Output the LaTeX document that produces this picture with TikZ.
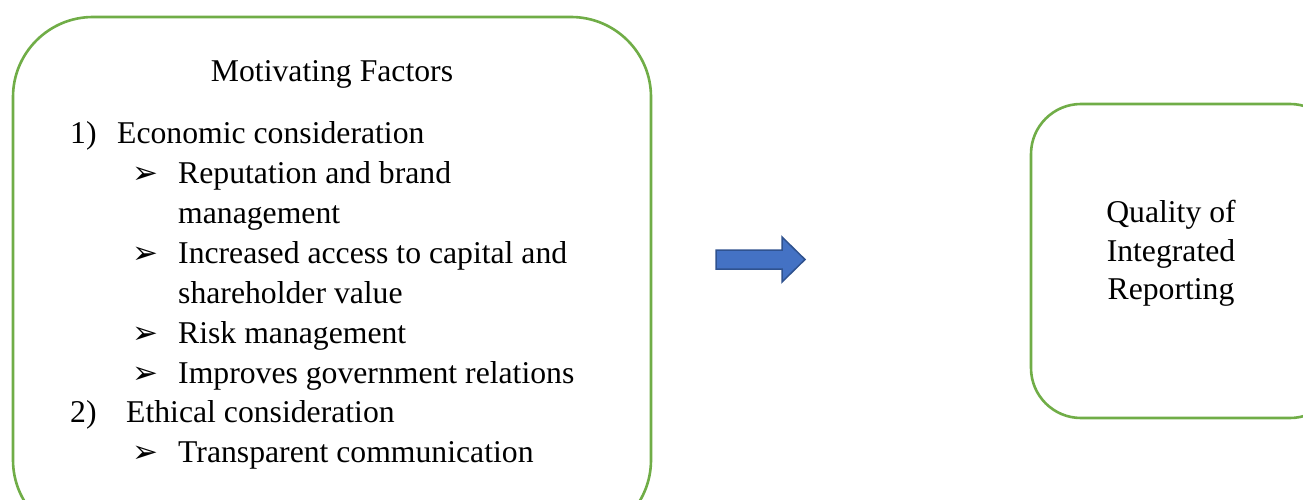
\documentclass[tikz,border=0pt]{standalone}
\usepackage{fontspec}
\setmainfont{Liberation Serif}
\newfontfamily\symfont{DejaVu Sans}
\definecolor{boxgreen}{HTML}{70AD47}
\definecolor{arrowfill}{HTML}{4472C4}
\definecolor{arrowedge}{HTML}{2F528F}
\begin{document}
\begin{tikzpicture}[x=1pt,y=-1pt,
  panel/.style={draw=boxgreen, line width=2.6pt, fill=white},
  txt/.style={anchor=base west, inner sep=0pt, font=\fontsize{31.7}{36}\selectfont},
  ctxt/.style={anchor=base, inner sep=0pt, font=\fontsize{31.7}{36}\selectfont},
  bul/.style={anchor=base west, inner sep=0pt, font=\symfont\fontsize{31}{36}\selectfont}]
\useasboundingbox (0,0) rectangle (1303,500);
\clip (0,0) rectangle (1303,500);
% panels
\draw[panel, rounded corners=80pt] (13,17) rectangle (651,540);
\draw[panel, rounded corners=50pt] (1031,104) rectangle (1340,418);
% block arrow
\draw[fill=arrowfill, draw=arrowedge, line width=1.5pt, line join=miter]
  (716,250) -- (782,250) -- (782,237) -- (805,259.5) -- (782,282) -- (782,269) -- (716,269) -- cycle;
% left panel text
\node[ctxt] (title) at (332,82) {Motivating Factors};
\node[txt] (n1) at (70,143) {1)};
\node[txt] (econ) at (117,143) {Economic consideration};
\node[bul] (b1) at (132,183) {➢};
\node[txt] (rep1) at (178,183) {Reputation and brand};
\node[txt] (rep2) at (178,223) {management};
\node[bul] (b2) at (132,263) {➢};
\node[txt] (cap1) at (178,263) {Increased access to capital and};
\node[txt] (cap2) at (178,303) {shareholder value};
\node[bul] (b3) at (132,343) {➢};
\node[txt] (risk) at (178,343) {Risk management};
\node[bul] (b4) at (132,383) {➢};
\node[txt] (gov) at (178,383) {Improves government relations};
\node[txt] (n2) at (70,422) {2)};
\node[txt] (eth) at (126,422) {Ethical consideration};
\node[bul] (b5) at (132,462) {➢};
\node[txt] (trans) at (178,462) {Transparent communication};
% right panel text
\node[ctxt] (q1) at (1171,222) {Quality of};
\node[ctxt] (q2) at (1171,261) {Integrated};
\node[ctxt] (q3) at (1171,299) {Reporting};
\end{tikzpicture}
\end{document}
